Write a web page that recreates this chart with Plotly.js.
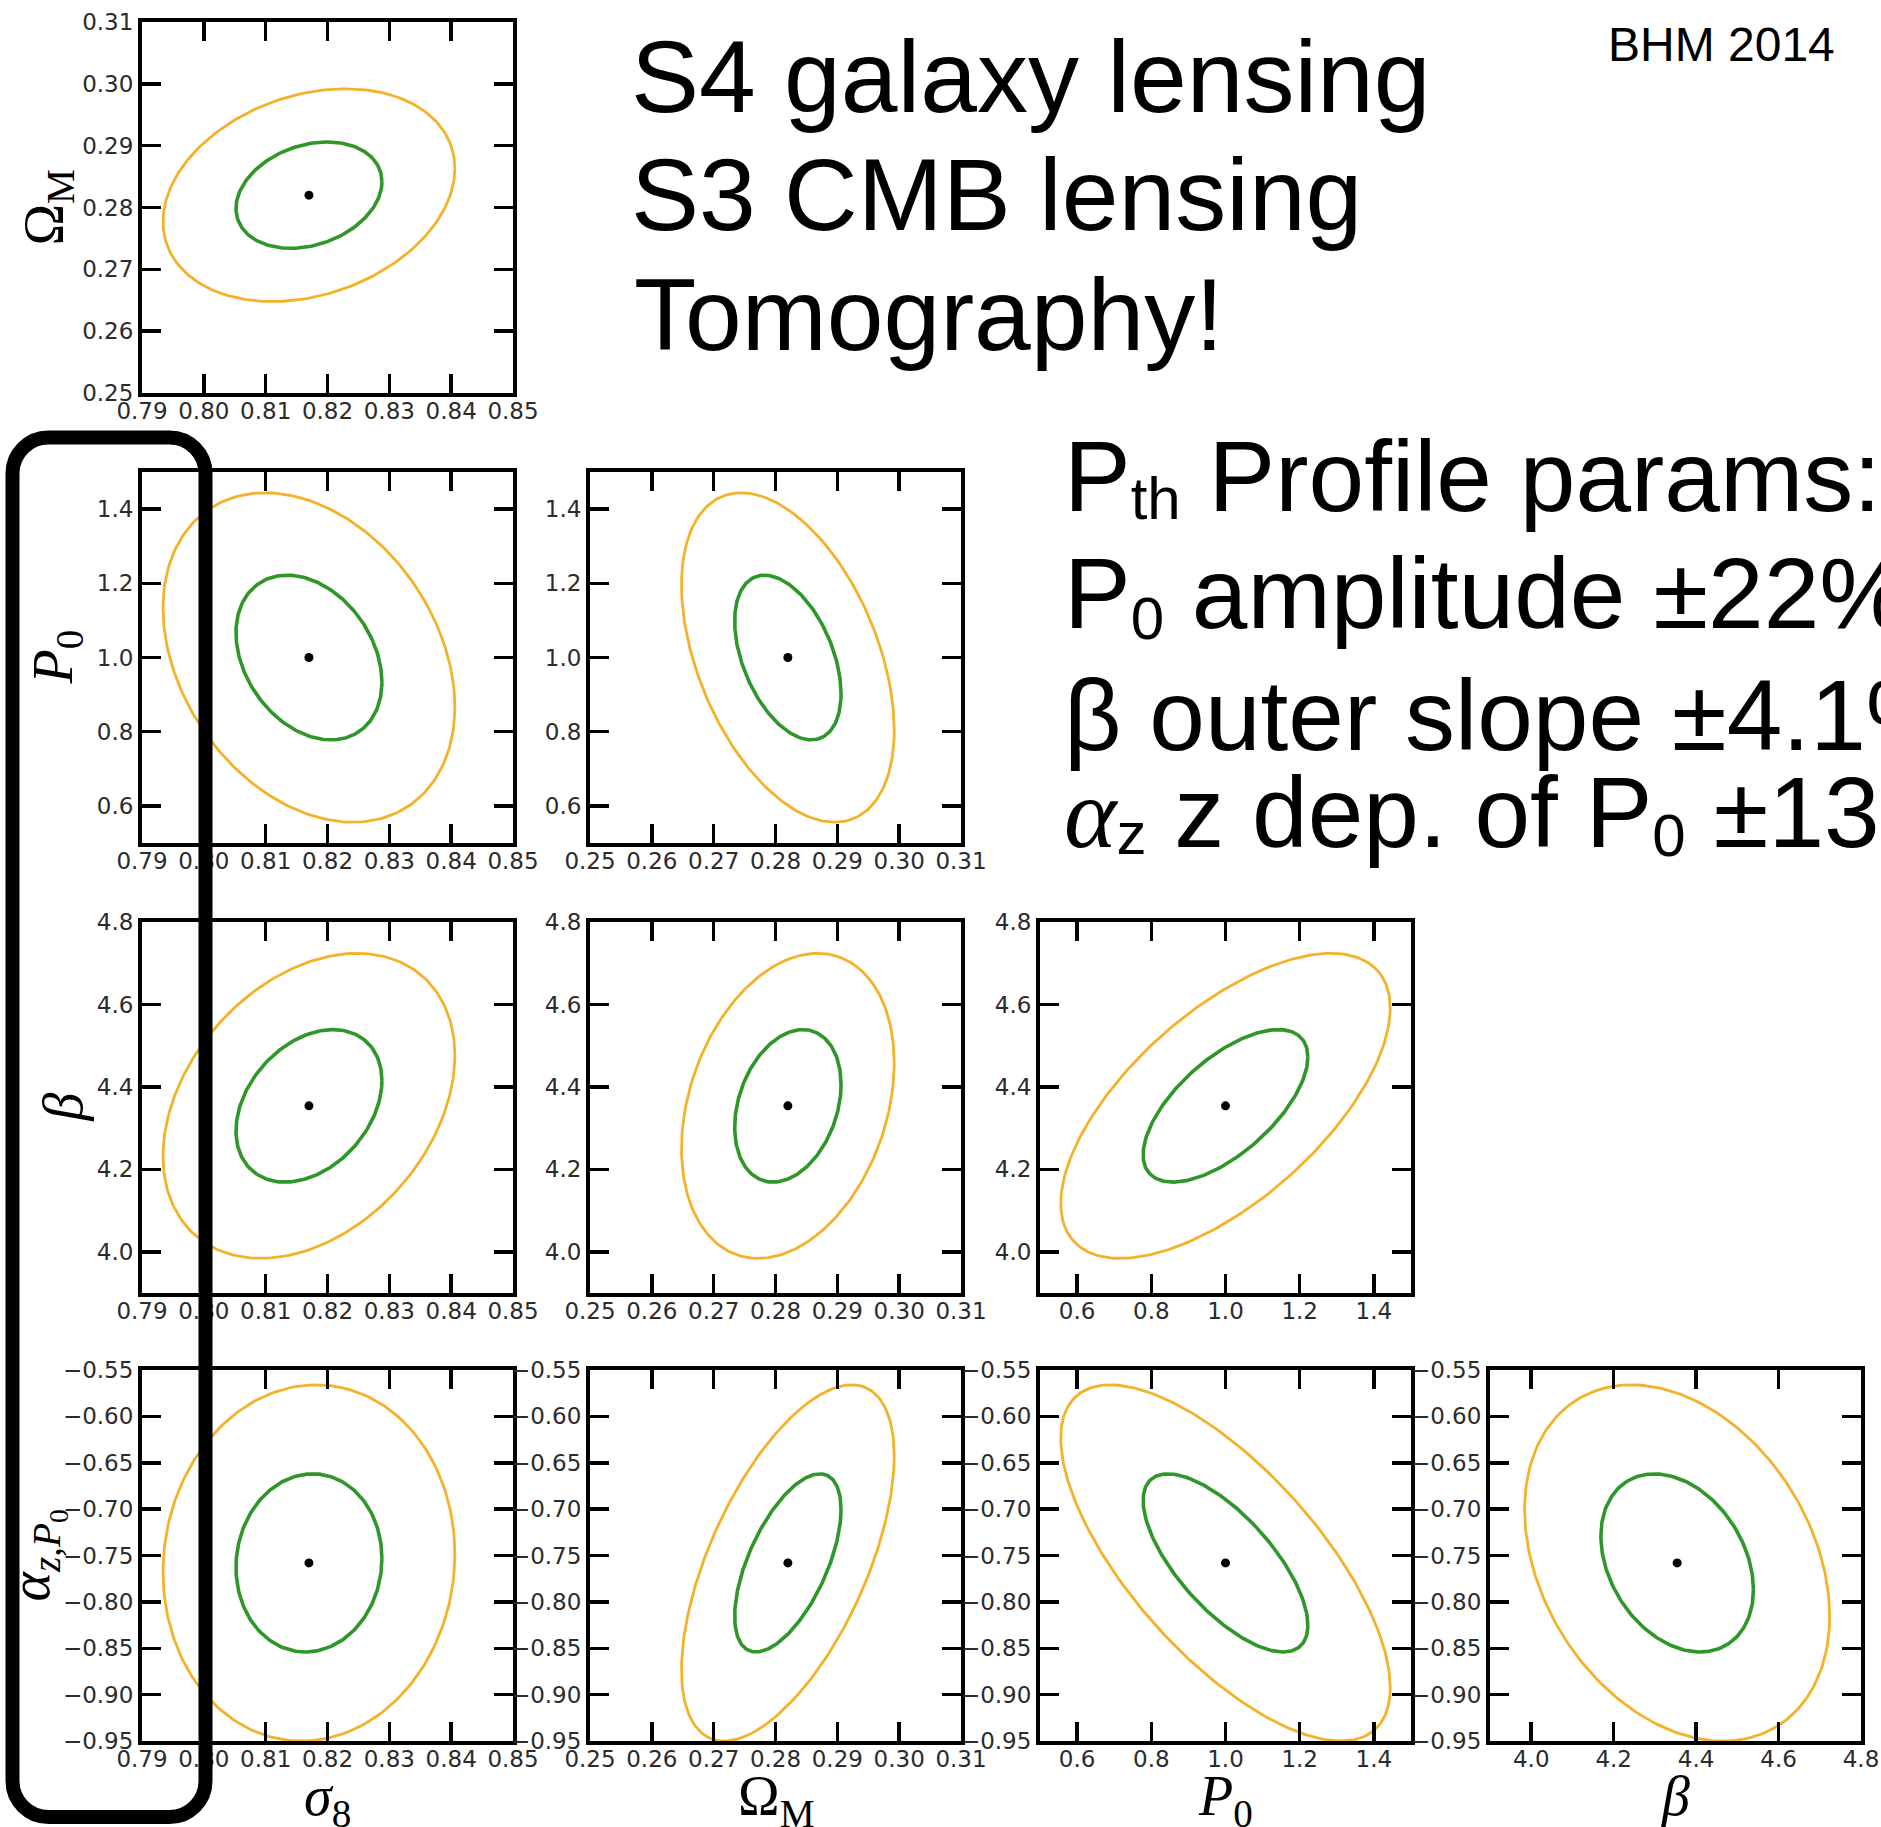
<!DOCTYPE html>
<html>
<head>
<meta charset="utf-8">
<script src="https://cdn.plot.ly/plotly-3.0.1.min.js"></script>
<style>
html,body{margin:0;padding:0;background:#fff;overflow:hidden;}
#plot{width:1881px;height:1827px;}
</style>
</head>
<body>
<div id="plot"></div>
<script>
// ---------------- data ----------------
const paramNames = ['sigma8', 'OmegaM', 'P0', 'beta', 'alphaz'];
const fiducial = [0.817, 0.282, 1.0, 4.354, -0.758];
// 1-sigma marginal half-extent of the inner (green) ellipse
const sigmaOne = [0.0118, 0.0086, 0.222, 0.185, 0.096];
// parameter pairs [x, y] shown, in panel order, and their correlation
const panelPairs = [[0,1],[0,2],[1,2],[0,3],[1,3],[2,3],[0,4],[1,4],[2,4],[3,4]];
const pairCorrelation = [0.25, -0.30, -0.44, 0.33, 0.28, 0.64, 0.05, 0.60, -0.70, -0.30];
// contour levels: outer (orange) and inner (green), in units of sigma
const contourLevels = [2, 1];
const contourColors = ['#f4b12a', '#2f962a'];
const contourWidths = [2.8, 3.6];

const axisRanges = [[0.79, 0.85], [0.25, 0.31], [0.5, 1.5], [3.9, 4.8], [-0.95, -0.55]];
const sigma8Ticks = [0.79, 0.80, 0.81, 0.82, 0.83, 0.84, 0.85];
const sigma8Labels = ['0.79', '0.80', '0.81', '0.82', '0.83', '0.84', '0.85'];
const omegaTicks = [0.25, 0.26, 0.27, 0.28, 0.29, 0.30, 0.31];
const omegaLabels = ['0.25', '0.26', '0.27', '0.28', '0.29', '0.30', '0.31'];
const p0Ticks = [0.6, 0.8, 1.0, 1.2, 1.4];
const p0Labels = ['0.6', '0.8', '1.0', '1.2', '1.4'];
const betaTicks = [4.0, 4.2, 4.4, 4.6, 4.8];
const betaLabels = ['4.0', '4.2', '4.4', '4.6', '4.8'];
const alphaTicks = [-0.95, -0.90, -0.85, -0.80, -0.75, -0.70, -0.65, -0.60, -0.55];
const alphaLabels = ['\u22120.95', '\u22120.90', '\u22120.85', '\u22120.80', '\u22120.75', '\u22120.70', '\u22120.65', '\u22120.60', '\u22120.55'];
const tickSets = [[sigma8Ticks, sigma8Labels], [omegaTicks, omegaLabels], [p0Ticks, p0Labels], [betaTicks, betaLabels], [alphaTicks, alphaLabels]];

const axisLabels = ['<i>σ</i><sub>8</sub>', 'Ω<sub>M</sub>', '<i>P</i><sub>0</sub>', '<i>β</i>', '<i>α</i><sub><i>z</i>,<i>P</i><sub>0</sub></sub>'];

// ---------------- geometry ----------------
const W = 1881, H = 1827;
const colLeft = [142, 590, 1040, 1490];
const rowTop = [22, 472, 922, 1370];
const panelSize = 371;
const px = v => v / W;
const py = v => 1 - v / H;

const traces = [];
const layout = {
  width: W, height: H,
  margin: {l: 0, r: 0, t: 0, b: 0},
  paper_bgcolor: '#fff', plot_bgcolor: '#fff',
  showlegend: false,
  font: {family: 'DejaVu Sans', color: '#000'},
  annotations: [], shapes: []
};

const axisStyle = {
  showline: true, linecolor: '#000', linewidth: 4, mirror: 'ticks',
  ticks: 'inside', ticklen: 19, tickwidth: 3.5, tickcolor: '#000',
  showgrid: false, zeroline: false, fixedrange: true, tickangle: 0,
  tickmode: 'array',
  tickfont: {family: 'DejaVu Sans', size: 23, color: '#2b2b2b'}
};

function ellipse(i, j, rho, level) {
  const xs = [], ys = [];
  const n = 240;
  const ax = level * sigmaOne[i], ay = level * sigmaOne[j];
  const s = Math.sqrt(1 - rho * rho);
  for (let k = 0; k <= n; k++) {
    const t = 2 * Math.PI * k / n;
    xs.push(fiducial[i] + ax * Math.cos(t));
    ys.push(fiducial[j] + ay * (rho * Math.cos(t) + s * Math.sin(t)));
  }
  return [xs, ys];
}

panelPairs.forEach((pair, p) => {
  const [i, j] = pair;
  const row = j - 1, col = i;
  const id = p + 1;
  const sfx = id === 1 ? '' : String(id);
  const xr = axisRanges[i], yr = axisRanges[j];
  const eps = 1e-9;
  layout['xaxis' + sfx] = Object.assign({}, axisStyle, {
    domain: [px(colLeft[col]), px(colLeft[col] + panelSize)],
    range: [xr[0] - eps, xr[1] + eps],
    tickvals: tickSets[i][0], ticktext: tickSets[i][1],
    ticklabelstandoff: -6,
    anchor: 'y' + sfx
  });
  layout['yaxis' + sfx] = Object.assign({}, axisStyle, {
    domain: [py(rowTop[row] + panelSize), py(rowTop[row])],
    range: [yr[0] - eps, yr[1] + eps],
    tickvals: tickSets[j][0], ticktext: tickSets[j][1],
    anchor: 'x' + sfx
  });
  contourLevels.forEach((lev, c) => {
    const [xs, ys] = ellipse(i, j, pairCorrelation[p], lev);
    traces.push({type: 'scatter', mode: 'lines', x: xs, y: ys, xaxis: 'x' + sfx, yaxis: 'y' + sfx,
      line: {color: contourColors[c], width: contourWidths[c]}, hoverinfo: 'skip'});
  });
  traces.push({type: 'scatter', mode: 'markers', x: [fiducial[i]], y: [fiducial[j]], xaxis: 'x' + sfx, yaxis: 'y' + sfx,
    marker: {color: '#000', size: 9}, hoverinfo: 'skip'});
});

// axis titles (left column and bottom row)
const mathFont = 'Liberation Serif';
const leftTitleX = [48, 56, 62, 36];
for (let r = 0; r < 4; r++) {
  layout.annotations.push({xref: 'paper', yref: 'paper', x: px(leftTitleX[r]), y: py(rowTop[r] + panelSize / 2),
    xanchor: 'center', yanchor: 'middle', textangle: -90, showarrow: false, borderpad: 0,
    text: axisLabels[r + 1], font: {family: mathFont, size: 56, color: '#000'}});
}
for (let c = 0; c < 4; c++) {
  layout.annotations.push({xref: 'paper', yref: 'paper', x: px(colLeft[c] + panelSize / 2), y: py(1764),
    xanchor: 'center', yanchor: 'top', showarrow: false, borderpad: 0,
    text: axisLabels[c], font: {family: mathFont, size: 56, color: '#000'}});
}

// slide texts
const sans = 'Liberation Sans';
function textLine(text, x, top, size) {
  layout.annotations.push({xref: 'paper', yref: 'paper', x: px(x), y: py(top), xanchor: 'left', yanchor: 'top',
    showarrow: false, borderpad: 0, text: text, font: {family: sans, size: size, color: '#000'}});
}
const smallSub = (t, shift) => '<span style="font-size:60px;baseline-shift:-' + shift + 'px">' + t + '</span>';
textLine('S4 galaxy lensing', 630, 19, 102);
textLine('S3 CMB lensing', 630, 137, 102);
textLine('Tomography!', 633, 257, 102);
textLine('BHM 2014', 1607, 17, 48);
textLine('P' + smallSub('th', 8) + ' Profile params:', 1063, 419, 100);
textLine('P' + smallSub('0', 11) + ' amplitude ±22%', 1063, 536, 100);
textLine('β outer slope ±4.1%', 1063, 658, 100);
textLine('<span style="font-family:Liberation Serif"><i>α</i></span>' + smallSub('z', 7) + ' z dep. of P' + smallSub('0', 9) + ' ±13%', 1063, 755, 100);

// rounded highlight box around the left column
const rL = 12.5, rR = 205.5, rT = 437.5, rB = 1817, rad = 36, kk = 0.5523 * 36;
const P = (x, y) => px(x).toFixed(6) + ',' + py(y).toFixed(6);
const path = 'M' + P(rL, rT + rad) +
  ' C' + P(rL, rT + rad - kk) + ' ' + P(rL + rad - kk, rT) + ' ' + P(rL + rad, rT) +
  ' L' + P(rR - rad, rT) +
  ' C' + P(rR - rad + kk, rT) + ' ' + P(rR, rT + rad - kk) + ' ' + P(rR, rT + rad) +
  ' L' + P(rR, rB - rad) +
  ' C' + P(rR, rB - rad + kk) + ' ' + P(rR - rad + kk, rB) + ' ' + P(rR - rad, rB) +
  ' L' + P(rL + rad, rB) +
  ' C' + P(rL + rad - kk, rB) + ' ' + P(rL, rB - rad + kk) + ' ' + P(rL, rB - rad) + ' Z';
layout.shapes.push({type: 'path', xref: 'paper', yref: 'paper', path: path, layer: 'above',
  line: {color: '#000', width: 14}, fillcolor: 'rgba(0,0,0,0)'});

Plotly.newPlot('plot', traces, layout, {staticPlot: true, displayModeBar: false});
</script>
</body>
</html>
